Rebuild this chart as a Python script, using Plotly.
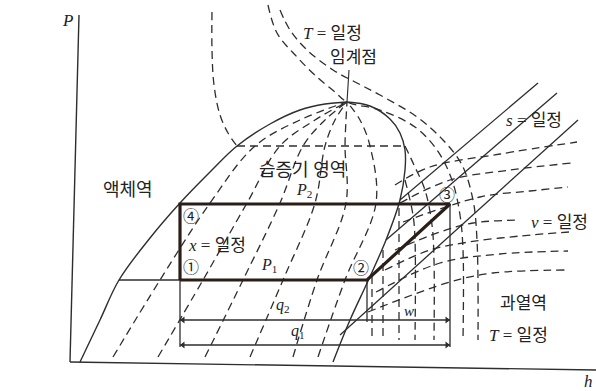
import plotly.graph_objects as go

# ---- saturation dome (h, P in diagram units) ----
liquid_h = [80, 100, 119, 150, 180, 210, 237, 270, 300, 325, 347]
liquid_p = [29, 71, 111, 153, 188, 219, 245, 267, 281, 287, 289]
vapor_h = [347, 370, 390, 400, 405, 405, 400, 386, 368, 350, 333]
vapor_p = [289, 285, 272, 258, 241, 221, 191, 151, 110, 71, 29]
critical_h = 347
critical_p = 289

# ---- constant-quality lines (x = const), given at these pressure levels ----
quality_p = [34, 111, 188, 245, 271, 289]
quality_h = [
    [113, 160, 210, 255, 300, 347],
    [158, 203, 247, 280, 315, 347],
    [205, 243, 280, 303, 325, 347],
    [250, 283, 315, 325, 335, 347],
    [293, 317, 346, 345, 346, 347],
    [318, 345, 376, 370, 360, 347],
]

# ---- isotherms (T = const) ----
iso_mid_h = [212, 212, 214, 220, 228, 237, 405, 414, 425, 432, 434, 434]
iso_mid_p = [379, 341, 306, 276, 258, 245, 245, 226, 201, 166, 131, 51]
iso_crit_h = [268, 277, 297, 317, 335, 347, 380, 415, 437, 452, 460, 463, 463]
iso_crit_p = [386, 358, 334, 314, 299, 289, 281, 264, 241, 211, 176, 141, 51]
iso_high_h = [280, 290, 307, 333, 357, 380, 417, 443, 462, 473, 477, 478]
iso_high_p = [381, 361, 341, 321, 308, 296, 274, 251, 226, 191, 151, 51]
iso_low_h = [372, 383, 399]
iso_low_top = [115, 141, 183]
iso_low_bottom = 51
iso_d_h = [405, 413, 415, 415]
iso_d_p = [211, 176, 151, 51]

# ---- constant specific volume lines (v = const) ----
vol_h = [
    [395, 430, 500, 577],
    [400, 450, 510, 572],
    [403, 480, 530, 568],
    [395, 440, 473, 520],
    [385, 430, 469, 520, 569],
    [376, 440, 500, 568],
    [368, 450, 493, 567],
]
vol_p = [
    [206, 224, 237, 249],
    [188, 211, 221, 228],
    [169, 194, 200, 204],
    [141, 159, 168, 171],
    [121, 141, 149, 155, 159],
    [99, 128, 137, 140],
    [79, 109, 118, 121],
]

# ---- constant entropy lines (s = const) ----
ent_h = [[400, 538], [386, 557], [340, 578]]
ent_p = [[191, 308], [151, 298], [56, 271]]

# ---- refrigeration cycle states 1-2-3-4 ----
h1, h2, h3 = 180, 367, 450
p_low, p_high = 111, 187
cycle_h = [h1, h2, h3, h1, h1]
cycle_p = [p_low, p_low, p_high, p_high, p_low]

# heat / work bars below the cycle
q2_level = 71
q1_level = 46

INK = "#2e2e2e"
THICK = "#2a1f18"
DASH = "8px,5px"
FONT = "Liberation Serif, Noto Sans CJK KR"

fig = go.Figure()


def curve(h, p, width=1.3, dash=None, color=INK, shape="spline"):
    fig.add_trace(go.Scatter(
        x=h, y=p, mode="lines",
        line=dict(color=color, width=width, dash=dash, shape=shape,
                  smoothing=1.0 if shape == "spline" else None),
        hoverinfo="skip", showlegend=False))


# axes
curve([79, 70], [376, 29], width=1.4, shape="linear")
curve([70, 596], [29, 21], width=1.4, shape="linear")

# saturation dome
curve(liquid_h, liquid_p, width=1.4)
curve(vapor_h, vapor_p, width=1.4)

# quality lines
for hs in quality_h:
    curve(hs, quality_p, dash=DASH)

# isotherms
curve(iso_mid_h[:6], iso_mid_p[:6], dash=DASH)
curve(iso_mid_h[5:7], iso_mid_p[5:7], dash=DASH, shape="linear")
curve(iso_mid_h[6:], iso_mid_p[6:], dash=DASH)
curve(iso_crit_h, iso_crit_p, dash=DASH)
curve(iso_high_h, iso_high_p, dash=DASH)
for h, top in zip(iso_low_h, iso_low_top):
    curve([h, h], [top, iso_low_bottom], dash=DASH, shape="linear")
curve(iso_d_h, iso_d_p, dash=DASH)

# v = const
for hs, ps in zip(vol_h, vol_p):
    curve(hs, ps, dash=DASH)

# s = const
for hs, ps in zip(ent_h, ent_p):
    curve(hs, ps, width=1.3, shape="linear")

# leader to the critical point
curve([349, critical_h], [321, critical_p], width=1.1, shape="linear")

# thin extension of the low-pressure line into the liquid region
curve([119, h1], [p_low, p_low], width=1.3, shape="linear")

# reference verticals and q / w bars
curve([h1, h1], [p_low, q1_level - 2], width=1.3, shape="linear")
curve([h2, h2], [p_low, q2_level - 2], width=1.3, shape="linear")
curve([h3, h3], [p_high, q1_level - 2], width=1.3, shape="linear")
curve([h1, h3], [q2_level, q2_level], width=1.3, shape="linear")
curve([h1, h3], [q1_level, q1_level], width=1.3, shape="linear")

# arrowheads at both ends of the q / w bars
fig.add_trace(go.Scatter(
    x=[h1 + 3, h1 + 3], y=[q2_level, q1_level], mode="markers",
    marker=dict(symbol="triangle-left", size=6, color=INK),
    hoverinfo="skip", showlegend=False))
fig.add_trace(go.Scatter(
    x=[h3 - 3, h3 - 3], y=[q2_level, q1_level], mode="markers",
    marker=dict(symbol="triangle-right", size=6, color=INK),
    hoverinfo="skip", showlegend=False))

# cycle
curve(cycle_h, cycle_p, width=3.2, color=THICK, shape="linear")

annotations = []


def label(text, h, p, size=16):
    annotations.append(dict(x=h, y=p, xref="x", yref="y", text=text,
                            showarrow=False, font=dict(family=FONT, size=size, color="#222")))


label("<i>P</i>", 67, 371, 17)
label("<i>h</i>", 588, 10, 17)
label("<i>T</i> = 일정", 332, 358, 17)
label("임계점", 353, 334, 17)
label("액체역", 128, 201, 18)
label("습증기 영역", 302, 221, 18)
label("<i>P</i><sub>2</sub>", 304, 201, 16)
label("<i>P</i><sub>1</sub>", 269, 126, 16)
label("<i>x</i> = 일정", 217, 146, 17)
label("<i>s</i> = 일정", 534, 271, 17)
label("<i>v</i> = 일정", 559, 169, 17)
label("과열역", 523, 88, 17)
label("<i>T</i> = 일정", 518, 56, 17)
label("<i>q</i><sub>2</sub>", 283, 86, 16)
label("<i>q</i><sub>1</sub>", 298, 60, 16)
label("<i>w</i>", 409, 80, 15)
label("④", 191, 175, 16)
label("①", 191, 124, 16)
label("②", 361, 123, 16)
label("③", 447, 196, 16)

fig.update_layout(
    width=596, height=391,
    margin=dict(l=0, r=0, t=0, b=0),
    paper_bgcolor="white", plot_bgcolor="white",
    xaxis=dict(range=[0, 596], visible=False, fixedrange=True),
    yaxis=dict(range=[0, 391], visible=False, fixedrange=True),
    annotations=annotations,
)

fig.write_html("out.html")
